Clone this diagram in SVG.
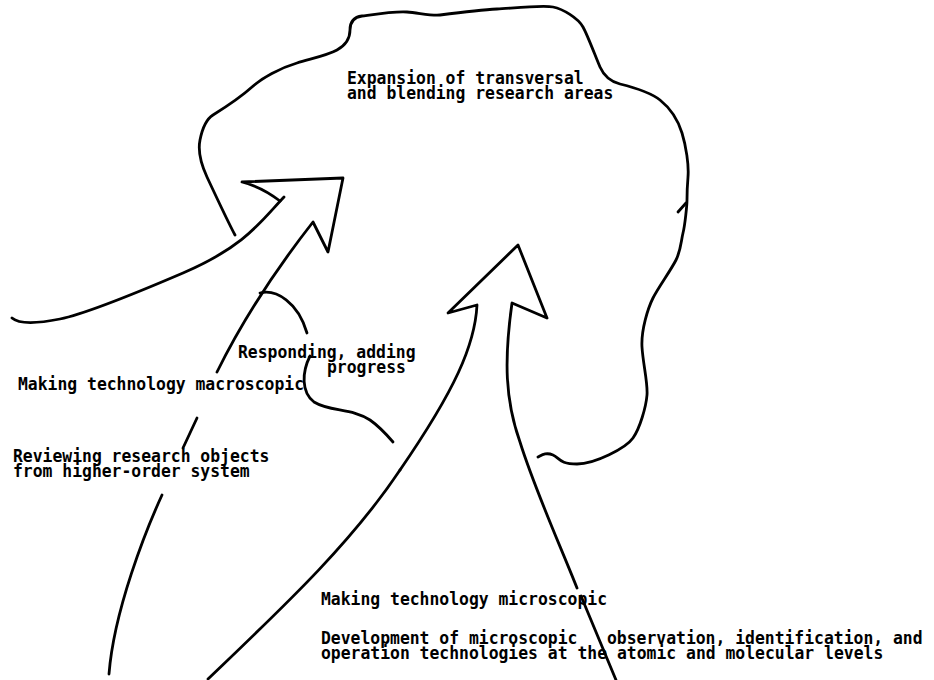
<svg xmlns="http://www.w3.org/2000/svg" width="934" height="680" viewBox="0 0 934 680">
<style>
.ln{fill:none;stroke:#000;stroke-width:2.8;stroke-linecap:round;stroke-linejoin:round}
.t{font-family:"DejaVu Sans Mono","Liberation Mono",monospace;font-weight:bold;font-size:16.4px;fill:#000}
</style>
<rect width="934" height="680" fill="#fff"/>
<g id="cloud">
<path class="ln" d="M235,235 C228,222 214,192 207,177 S198,150 200,140 S205,120 213,115 S242,96 252,87 S280,68 297,63 S328,55 337,50 S350,38 350,30 S354,17 362,16 S395,11 407,12 S432,16 440,15 S480,10 497,9 S543,5 553,7 S578,18 583,27 S596,58 600,67 S612,82 620,84 S650,92 660,100 S678,120 682,133 S689,165 688,177 S687,195 687,200 S685,225 683,233 S681,250 676,260 S658,288 653,298 S641,330 642,347 S648,383 647,395 S640,428 633,438 S595,464 577,464 S560,458 553,455 S542,455 538,457"/>
<path class="ln" d="M678,212 L686,203"/>
</g>
<g id="connectors">
<g id="arrow-macro">
<path class="ln" d="M12,318 C20,325 40,323 60,319 S120,300 183,273 S262,220 284,197"/>
<path class="ln" d="M280,201 Q262,187 242,182 L343,178 L328,252 L313,222 C295,245 250,305 217,372"/>
<path class="ln" d="M197,418 L183,448"/>
<path class="ln" d="M162,495 C146,530 114,610 109,674"/>
</g>
<g id="arrow-micro">
<path class="ln" d="M400,470 C455,390 475,345 477,305 L448,313 L518,245 L547,318 L512,303 C504,360 505,400 520,442 C535,490 560,545 577,588"/>
<path class="ln" d="M400,470 C350,545 280,610 208,679"/>
<path class="ln" d="M581,596 L616,680"/>
</g>
<g id="responding-marks">
<path class="ln" d="M260,293 C276,289 298,302 307,333"/>
<path class="ln" d="M310,356 C302,372 301,392 314,402 C330,412 352,408 370,420 C380,427 387,435 393,442"/>
</g>
</g>
<g id="node-expansion">
<text class="t" transform="translate(347,84) scale(1,1.1)"><tspan x="0" y="0">Expansion of transversal</tspan><tspan x="0" y="13.6">and blending research areas</tspan></text>
</g>
<g id="node-responding">
<text class="t" transform="translate(238,358) scale(1,1.1)"><tspan x="0" y="0">Responding, adding</tspan><tspan x="89" y="13.6">progress</tspan></text>
</g>
<g id="node-macroscopic">
<text class="t" transform="translate(18,390) scale(1,1.1)">Making technology macroscopic</text>
</g>
<g id="node-reviewing">
<text class="t" transform="translate(13,462) scale(1,1.1)"><tspan x="0" y="0">Reviewing research objects</tspan><tspan x="0" y="13.6">from higher-order system</tspan></text>
</g>
<g id="node-microscopic">
<text class="t" transform="translate(321,605) scale(1,1.1)">Making technology microscopic</text>
</g>
<g id="node-development">
<text class="t" transform="translate(321,644) scale(1,1.1)"><tspan x="0" y="0">Development of microscopic</tspan><tspan x="286" y="0">observation, identification, and</tspan><tspan x="0" y="13.6">operation technologies at the</tspan><tspan x="296" y="13.6">atomic and molecular levels</tspan></text>
</g>
</svg>
